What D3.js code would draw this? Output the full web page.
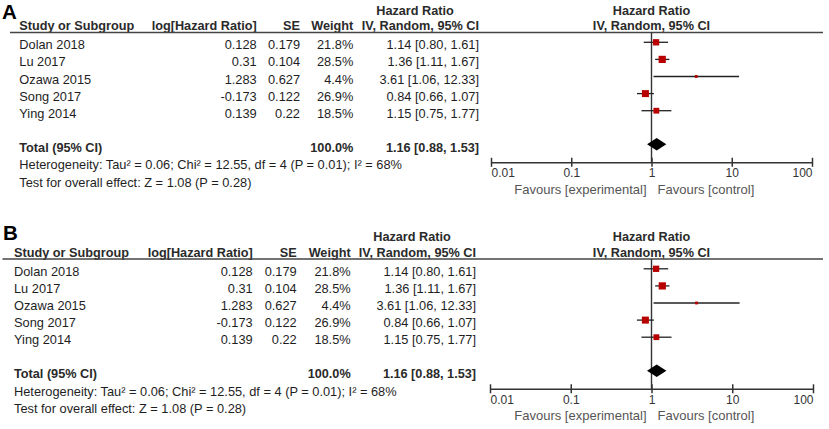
<!DOCTYPE html>
<html>
<head>
<meta charset="utf-8">
<script src="https://cdn.jsdelivr.net/npm/d3@7"></script>
<style>
  body { margin: 0; background: #fff; }
  svg { display: block; font-family: Arial, "Liberation Sans", sans-serif; }
</style>
</head>
<body>
<div id="chart"></div>
<script>
const studies = ["Dolan 2018", "Lu 2017", "Ozawa 2015", "Song 2017", "Ying 2014"];
const logHR = [0.128, 0.31, 1.283, -0.173, 0.139];
const se = [0.179, 0.104, 0.627, 0.122, 0.22];
const weights = [21.8, 28.5, 4.4, 26.9, 18.5];
const hr = [1.14, 1.36, 3.61, 0.84, 1.15];
const ciLow = [0.80, 1.11, 1.06, 0.66, 0.75];
const ciHigh = [1.61, 1.67, 12.33, 1.07, 1.77];
const total = { hr: 1.16, low: 0.88, high: 1.53, weight: 100.0 };
const tickValues = [0.01, 0.1, 1, 10, 100];
const heterogeneity = "Heterogeneity: Tau² = 0.06; Chi² = 12.55, df = 4 (P = 0.01); I² = 68%";
const overallTest = "Test for overall effect: Z = 1.08 (P = 0.28)";

const width = 829, height = 429;
const svg = d3.select("#chart").append("svg")
    .attr("width", width)
    .attr("height", height);

// panel layouts: B was pasted a few px left of A
const panels = [
    { label: "A", dy: 0, labelY: 18.5, labelX: 2, lineX: 10, cols: [19.3, 256.7, 300, 353.3, 479, 415], plot: [491, 812] },
    { label: "B", dy: 226.5, labelY: 240, labelX: 3, lineX: 2.5, cols: [14, 252.7, 296.7, 350.7, 476, 412], plot: [490, 813] }
];

const fmt2 = d3.format(".2f");
const ciText = (m, l, h) => `${fmt2(m)} [${fmt2(l)}, ${fmt2(h)}]`;
const regular = "12.8px", bold = "12.7px";

function drawPanel(p) {
    const g = svg.append("g").attr("transform", `translate(0,${p.dy})`);
    const [cStudy, cLog, cSE, cW, cHR, cHRHead] = p.cols;

    const x = d3.scaleLog().domain([0.01, 100]).range(p.plot);
    const y = d3.scalePoint().domain(studies).range([49.3, 49.3 + 17.1 * 4]);
    const xMid = x(1);

    svg.append("text")
        .attr("x", p.labelX)
        .attr("y", p.labelY)
        .attr("font-size", "20.5px")
        .attr("font-weight", "bold")
        .attr("fill", "#000")
        .text(p.label);

    // headers
    const head = (tx, ty, txt, anchor) => g.append("text")
        .attr("x", tx).attr("y", ty)
        .attr("text-anchor", anchor)
        .attr("font-size", bold)
        .attr("font-weight", "bold")
        .attr("fill", "#2a2a2a")
        .text(txt);

    head(cHRHead, 14.5, "Hazard Ratio", "middle");
    head(xMid, 14.5, "Hazard Ratio", "middle");
    head(cStudy, 30, "Study or Subgroup", "start");
    head(cLog, 30, "log[Hazard Ratio]", "end");
    head(cSE, 30, "SE", "end");
    head(cW, 30, "Weight", "end");
    head(cHR, 30, "IV, Random, 95% CI", "end");
    head(xMid, 30, "IV, Random, 95% CI", "middle");

    g.append("line")
        .attr("x1", p.lineX).attr("x2", 823)
        .attr("y1", 32.5).attr("y2", 32.5)
        .attr("stroke", "#444")
        .attr("stroke-width", 1.5);

    // study rows
    const rows = g.selectAll(".row")
        .data(studies.map((s, i) => ({ s, i })))
        .enter().append("g")
        .attr("class", "row")
        .attr("font-size", regular)
        .attr("fill", "#1e1e1e");

    rows.append("text").attr("x", cStudy).attr("y", d => y(d.s)).text(d => d.s);
    rows.append("text").attr("x", cLog).attr("y", d => y(d.s)).attr("text-anchor", "end").text(d => logHR[d.i]);
    rows.append("text").attr("x", cSE).attr("y", d => y(d.s)).attr("text-anchor", "end").text(d => se[d.i]);
    rows.append("text").attr("x", cW).attr("y", d => y(d.s)).attr("text-anchor", "end").text(d => weights[d.i].toFixed(1) + "%");
    rows.append("text").attr("x", cHR).attr("y", d => y(d.s)).attr("text-anchor", "end")
        .text(d => ciText(hr[d.i], ciLow[d.i], ciHigh[d.i]));

    // total row
    const totalY = 151.5;
    g.append("text").attr("x", cStudy).attr("y", totalY)
        .attr("font-size", bold).attr("font-weight", "bold").attr("fill", "#2a2a2a")
        .text("Total (95% CI)");
    g.append("text").attr("x", cW).attr("y", totalY).attr("text-anchor", "end")
        .attr("font-size", bold).attr("font-weight", "bold").attr("fill", "#2a2a2a")
        .text(total.weight.toFixed(1) + "%");
    g.append("text").attr("x", cHR).attr("y", totalY).attr("text-anchor", "end")
        .attr("font-size", bold).attr("font-weight", "bold").attr("fill", "#2a2a2a")
        .text(ciText(total.hr, total.low, total.high));

    g.append("text").attr("x", cStudy).attr("y", 169)
        .attr("font-size", regular).attr("fill", "#1e1e1e").text(heterogeneity);
    g.append("text").attr("x", cStudy).attr("y", 186.5)
        .attr("font-size", regular).attr("fill", "#1e1e1e").text(overallTest);

    // null line
    const axisY = 162.3;
    g.append("line")
        .attr("x1", xMid).attr("x2", xMid)
        .attr("y1", 32.5).attr("y2", axisY)
        .attr("stroke", "#333")
        .attr("stroke-width", 1.4);

    // CIs and squares
    const marks = g.selectAll(".mark")
        .data(studies.map((s, i) => ({ s, i })))
        .enter().append("g")
        .attr("class", "mark");

    marks.append("line")
        .attr("x1", d => x(ciLow[d.i]))
        .attr("x2", d => x(ciHigh[d.i]))
        .attr("y1", d => y(d.s) - 7)
        .attr("y2", d => y(d.s) - 7)
        .attr("stroke", "#222")
        .attr("stroke-width", 1.3);

    marks.append("rect")
        .attr("x", d => x(hr[d.i]) - 0.675 * Math.sqrt(weights[d.i]))
        .attr("y", d => y(d.s) - 7 - 0.675 * Math.sqrt(weights[d.i]))
        .attr("width", d => 1.35 * Math.sqrt(weights[d.i]))
        .attr("height", d => 1.35 * Math.sqrt(weights[d.i]))
        .attr("fill", "#b80000");

    // pooled diamond
    const dy = totalY - 7.2;
    g.append("path")
        .attr("d", `M${x(total.low)},${dy} L${x(total.hr)},${dy - 6.2} L${x(total.high)},${dy} L${x(total.hr)},${dy + 6.2} Z`)
        .attr("fill", "#000");

    // axis
    const axis = d3.axisBottom(x)
        .tickValues(tickValues)
        .tickFormat(d => String(d))
        .tickSizeInner(4.5)
        .tickSizeOuter(0)
        .tickPadding(4);

    const ax = g.append("g")
        .attr("transform", `translate(0,${axisY})`)
        .call(axis);

    ax.select(".domain").attr("stroke", "#333").attr("stroke-width", 1.5);
    ax.selectAll(".tick line").attr("y1", -4.5).attr("y2", 4.5).attr("stroke", "#333").attr("stroke-width", 1.5);
    ax.selectAll(".tick text")
        .attr("font-size", "12px")
        .attr("font-family", "Arial, 'Liberation Sans', sans-serif")
        .attr("fill", "#333")
        .attr("y", 15)
        .attr("dy", 0)
        .attr("text-anchor", (d, i) => i === 0 ? "start" : (i === tickValues.length - 1 ? "end" : "middle"));

    g.append("text").attr("x", xMid - 5).attr("y", 193.5).attr("text-anchor", "end")
        .attr("font-size", "13px").attr("fill", "#555").text("Favours [experimental]");
    g.append("text").attr("x", xMid + 6).attr("y", 193.5)
        .attr("font-size", "13px").attr("fill", "#555").text("Favours [control]");
}

panels.forEach(drawPanel);
</script>
</body>
</html>
